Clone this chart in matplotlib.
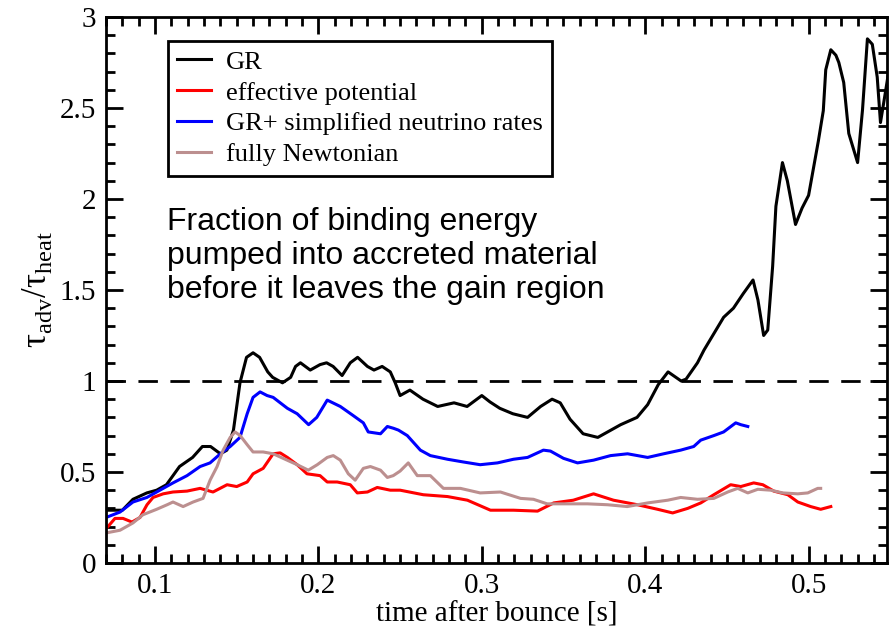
import matplotlib
matplotlib.use("Agg")
import matplotlib.pyplot as plt
from matplotlib.ticker import MultipleLocator, FormatStrFormatter

# tau_adv / tau_heat against time after bounce for the four runs
gr_t = [0.070, 0.080, 0.0865, 0.095, 0.101, 0.107, 0.115, 0.123, 0.129, 0.134,
        0.140, 0.144, 0.148, 0.152, 0.156, 0.160, 0.164, 0.169, 0.172, 0.178,
        0.183, 0.186, 0.189, 0.195, 0.201, 0.205, 0.209, 0.2145, 0.2195, 0.224,
        0.230, 0.234, 0.239, 0.244, 0.247, 0.250, 0.256, 0.264, 0.273, 0.283,
        0.291, 0.300, 0.305, 0.311, 0.319, 0.328, 0.336, 0.343, 0.348, 0.354,
        0.362, 0.371, 0.377, 0.385, 0.395, 0.4015, 0.408, 0.414, 0.422, 0.425,
        0.432, 0.436, 0.442, 0.448, 0.454, 0.460, 0.466, 0.469, 0.4725, 0.475,
        0.478, 0.480, 0.484, 0.487, 0.492, 0.496, 0.500, 0.506, 0.509, 0.5105,
        0.5136, 0.5167, 0.5185, 0.5215, 0.5246, 0.530, 0.533, 0.536, 0.539,
        0.542, 0.544, 0.546, 0.5485]
gr_r = [0.29, 0.29, 0.35, 0.385, 0.40, 0.43, 0.53, 0.58, 0.64, 0.64,
        0.60, 0.62, 0.73, 0.99, 1.13, 1.155, 1.13, 1.05, 1.02, 0.99,
        1.02, 1.08, 1.10, 1.06, 1.09, 1.10, 1.08, 1.03, 1.10, 1.13,
        1.08, 1.06, 1.08, 1.05, 0.99, 0.92, 0.95, 0.90, 0.86, 0.88,
        0.86, 0.92, 0.885, 0.85, 0.82, 0.80, 0.86, 0.90, 0.88, 0.79,
        0.71, 0.69, 0.72, 0.76, 0.80, 0.87, 0.98, 1.05, 1.00, 1.01,
        1.10, 1.17, 1.26, 1.35, 1.40, 1.48, 1.555, 1.445, 1.25, 1.28,
        1.63, 1.96, 2.20, 2.10, 1.86, 1.95, 2.02, 2.32, 2.485, 2.71,
        2.82, 2.79, 2.75, 2.64, 2.36, 2.20, 2.49, 2.88, 2.85,
        2.67, 2.42, 2.53, 2.67]

eff_t = [0.0712, 0.0755, 0.0804, 0.0859, 0.0908, 0.0951, 0.0988, 0.105, 0.111,
         0.1196, 0.1276, 0.1355, 0.1441, 0.150, 0.1564, 0.160, 0.1662, 0.1723,
         0.1766, 0.181, 0.187, 0.193, 0.201, 0.2054, 0.2115, 0.2195, 0.2238,
         0.230, 0.236, 0.244, 0.250, 0.2642, 0.279, 0.2912, 0.3053, 0.3194,
         0.3341, 0.344, 0.356, 0.3684, 0.3806, 0.3953, 0.4076, 0.4168, 0.426,
         0.434, 0.442, 0.4523, 0.4585, 0.4664, 0.472, 0.4787, 0.4873, 0.4934,
         0.5013, 0.5074, 0.5136]
eff_r = [0.20, 0.245, 0.245, 0.225, 0.25, 0.32, 0.36, 0.38, 0.39,
         0.395, 0.41, 0.39, 0.43, 0.42, 0.445, 0.49, 0.52, 0.60,
         0.605, 0.58, 0.54, 0.49, 0.48, 0.445, 0.445, 0.43, 0.385,
         0.39, 0.415, 0.40, 0.40, 0.375, 0.365, 0.345, 0.29, 0.29,
         0.285, 0.33, 0.345, 0.38, 0.345, 0.32, 0.295, 0.275, 0.30,
         0.33, 0.375, 0.43, 0.42, 0.44, 0.43, 0.395, 0.375, 0.335,
         0.31, 0.295, 0.31]

simp_t = [0.070, 0.0786, 0.0865, 0.095, 0.103, 0.111, 0.1196, 0.1276, 0.1337,
          0.140, 0.146, 0.152, 0.1564, 0.160, 0.1643, 0.1686, 0.1723, 0.181,
          0.187, 0.194, 0.199, 0.2054, 0.2134, 0.2213, 0.2275, 0.2305, 0.238,
          0.2422, 0.246, 0.249, 0.2544, 0.2624, 0.2685, 0.279, 0.2887, 0.299,
          0.3096, 0.3194, 0.328, 0.3377, 0.342, 0.350, 0.3586, 0.3684, 0.3788,
          0.3892, 0.4015, 0.4113, 0.4217, 0.4297, 0.434, 0.442, 0.448, 0.4554,
          0.4585, 0.4628]
simp_r = [0.25, 0.28, 0.335, 0.36, 0.40, 0.44, 0.48, 0.53, 0.55,
          0.60, 0.64, 0.69, 0.82, 0.91, 0.94, 0.92, 0.91, 0.85,
          0.82, 0.76, 0.80, 0.895, 0.86, 0.81, 0.77, 0.72, 0.71,
          0.75, 0.74, 0.73, 0.70, 0.62, 0.59, 0.57, 0.555, 0.54,
          0.55, 0.57, 0.58, 0.62, 0.615, 0.575, 0.55, 0.565, 0.59,
          0.60, 0.58, 0.60, 0.62, 0.64, 0.675, 0.70, 0.72, 0.77,
          0.76, 0.75]

newt_t = [0.070, 0.0786, 0.0865, 0.0926, 0.101, 0.1074, 0.111, 0.1172, 0.1233,
          0.1294, 0.1337, 0.138, 0.1417, 0.146, 0.149, 0.1521, 0.1564, 0.160,
          0.1662, 0.1723, 0.1784, 0.187, 0.1938, 0.1993, 0.2054, 0.2091, 0.2134,
          0.2183, 0.2225, 0.2275, 0.2318, 0.238, 0.2422, 0.2458, 0.250, 0.255,
          0.2605, 0.2685, 0.2765, 0.2869, 0.299, 0.3114, 0.3237, 0.3316, 0.340,
          0.3525, 0.3647, 0.377, 0.389, 0.4015, 0.4138, 0.4217, 0.432, 0.442,
          0.4505, 0.4566, 0.4628, 0.4689, 0.4768, 0.4842, 0.4934, 0.4995,
          0.5056, 0.5074]
newt_r = [0.165, 0.18, 0.22, 0.265, 0.295, 0.32, 0.335, 0.31, 0.335,
          0.355, 0.455, 0.53, 0.62, 0.69, 0.72, 0.70, 0.65, 0.61,
          0.61, 0.60, 0.575, 0.54, 0.51, 0.54, 0.58, 0.59, 0.565,
          0.49, 0.455, 0.52, 0.53, 0.51, 0.47, 0.48, 0.505, 0.55,
          0.48, 0.48, 0.41, 0.41, 0.385, 0.39, 0.355, 0.35, 0.325,
          0.325, 0.325, 0.32, 0.31, 0.33, 0.345, 0.36, 0.35, 0.355,
          0.39, 0.41, 0.385, 0.405, 0.40, 0.385, 0.38, 0.385,
          0.41, 0.41]

labels = ["GR", "effective potential", "GR+ simplified neutrino rates",
          "fully Newtonian"]
colors = ["black", "red", "blue", "rosybrown"]

plt.rcParams["font.family"] = "Liberation Serif"
plt.rcParams["mathtext.fontset"] = "custom"
plt.rcParams["mathtext.rm"] = "Liberation Serif"

fig = plt.figure(figsize=(8.93, 6.32), dpi=100)
ax = fig.add_axes([0.1187, 0.1092, 0.8746, 0.8639])

series = [(gr_t, gr_r), (eff_t, eff_r), (simp_t, simp_r), (newt_t, newt_r)]
for (t, r), lab, c in zip(series, labels, colors):
    ax.plot(t, r, color=c, lw=2.2, label=lab)

ax.axhline(1.0, color="black", lw=2, dashes=(7, 4.5))

ax.set_xlim(0.07, 0.548)
ax.set_ylim(0, 3)
ax.xaxis.set_major_locator(MultipleLocator(0.1))
ax.xaxis.set_minor_locator(MultipleLocator(0.01))
ax.yaxis.set_major_locator(MultipleLocator(0.5))
ax.yaxis.set_minor_locator(MultipleLocator(0.1))
ax.xaxis.set_major_formatter(FormatStrFormatter("%g"))
ax.yaxis.set_major_formatter(FormatStrFormatter("%g"))
ax.tick_params(which="both", direction="in", top=True, right=True,
               width=2, labelsize=21)
ax.tick_params(which="major", length=12, pad=7)
ax.tick_params(which="minor", length=6.5)
for s in ax.spines.values():
    s.set_linewidth(2)

ax.set_xlabel("time after bounce [s]", fontsize=21, labelpad=2)
ax.set_ylabel(r"τ$_\mathrm{adv}$/τ$_\mathrm{heat}$", fontsize=25, labelpad=4)

leg = ax.legend(loc="upper left", bbox_to_anchor=(0.079, 0.956),
                borderaxespad=0, fontsize=19, handlelength=1.29,
                handletextpad=0.57, labelspacing=0.28, borderpad=0.35,
                fancybox=False, framealpha=1, edgecolor="black")
leg.get_frame().set_linewidth(2)

ax.text(0.078, 0.652,
        "Fraction of binding energy\npumped into accreted material\n"
        "before it leaves the gain region",
        transform=ax.transAxes, family="Liberation Sans", fontsize=23,
        va="top", ha="left", linespacing=1.17)

fig.savefig("out.png", dpi=100)
